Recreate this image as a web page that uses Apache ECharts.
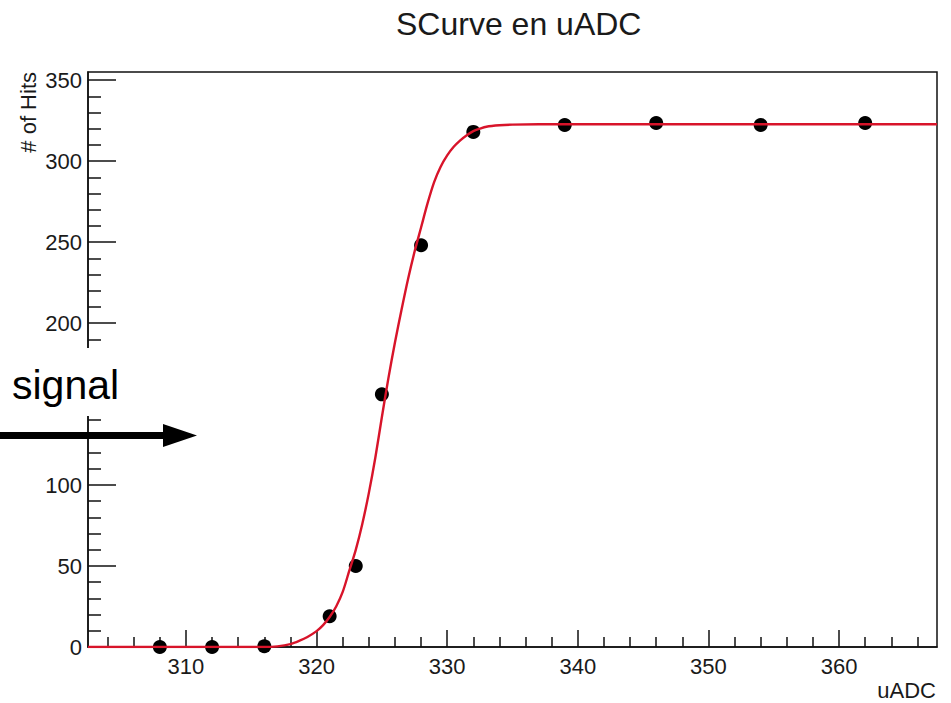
<!DOCTYPE html>
<html><head><meta charset="utf-8">
<script src="https://cdn.jsdelivr.net/npm/echarts@6/dist/echarts.min.js"></script>
<style>html,body{margin:0;padding:0;background:#fff}#c{width:951px;height:703px}</style>
</head><body><div id="c"></div>
<script>
const FONT = "'Liberation Sans', Arial, Helvetica, sans-serif";

const chartTitle = 'SCurve en uADC';
const xAxisTitle = 'uADC';
const yAxisTitle = '# of Hits';
const annotationText = 'signal';

const xMin = 302.5, xMax = 367.5;
const yMin = 0, yMax = 355;

const xMajorTicks = [310, 320, 330, 340, 350, 360];
const xMinorTicks = [304, 306, 308, 312, 314, 316, 318, 322, 324, 326, 328, 332, 334, 336, 338,
  342, 344, 346, 348, 352, 354, 356, 358, 362, 364, 366];
const yMajorTicks = [0, 50, 100, 150, 200, 250, 300, 350];
// the 150 label is hidden behind the "signal" annotation box in the reference
const yMajorLabels = [0, 50, 100, 200, 250, 300, 350];
const yMinorTicks = [10, 20, 30, 40, 60, 70, 80, 90, 110, 120, 130, 140, 160, 170, 180, 190,
  210, 220, 230, 240, 260, 270, 280, 290, 310, 320, 330, 340];

// measured points (black markers)
const hitX = [308, 312, 316, 321, 323, 325, 328, 332, 339, 346, 354, 362];
const hitY = [0, 0, 0.5, 19, 50, 156, 248, 318, 322.3, 323.5, 322.3, 323.5];

// fitted S-curve (red line)
const fitX = [302.5, 316, 317, 318, 318.7, 319.3, 320, 320.5, 321, 321.5, 322, 322.5, 323, 323.5,
  324, 324.5, 325, 325.5, 326, 326.5, 327, 327.5, 328, 328.5, 329, 329.5, 330, 330.5, 331,
  331.5, 332, 332.5, 333, 334, 335, 337, 340, 367.5];
const fitY = [0, 0, 0.4, 1.8, 3.9, 6.2, 9.8, 13.5, 18.5, 25, 34, 47, 60, 76,
  95, 117, 142, 166, 188, 208, 227, 244, 259, 274, 287, 296.5, 303.5, 308.8, 312.8,
  316, 318.5, 320, 321.2, 322.1, 322.5, 322.7, 322.7, 322.7];

const hitData = hitX.map((x, i) => [x, hitY[i]]);
const fitData = fitX.map((x, i) => [x, fitY[i]]);

const chart = echarts.init(document.getElementById('c'), null, {renderer: 'svg'});
const labelStyle = {color: '#1a1a1a', fontSize: 22, fontFamily: FONT};

chart.setOption({
  backgroundColor: '#fff',
  animation: false,
  title: {
    text: chartTitle,
    left: 391, top: 3,
    textStyle: {fontSize: 32, fontWeight: 'normal', color: '#1a1a1a', fontFamily: FONT}
  },
  grid: {left: 88, right: 14, top: 72, bottom: 56, show: true, borderColor: '#111', borderWidth: 1.5, backgroundColor: 'transparent'},
  xAxis: [{
    type: 'value', min: xMin, max: xMax,
    axisLine: {show: true, onZero: false, lineStyle: {color: '#111', width: 1.5}},
    axisTick: {show: true, inside: true, length: 17, customValues: xMajorTicks, lineStyle: {color: '#111', width: 1.5}},
    axisLabel: Object.assign({show: true, margin: 8, customValues: xMajorTicks}, labelStyle),
    splitLine: {show: false}
  }, {
    type: 'value', min: xMin, max: xMax, position: 'bottom',
    axisLine: {show: false},
    axisTick: {show: true, inside: true, length: 10, customValues: xMinorTicks, lineStyle: {color: '#111', width: 1.5}},
    axisLabel: {show: false},
    splitLine: {show: false}
  }],
  yAxis: [{
    type: 'value', min: yMin, max: yMax,
    axisLine: {show: true, onZero: false, lineStyle: {color: '#111', width: 1.5}},
    axisTick: {show: true, inside: true, length: 28, customValues: yMajorTicks, lineStyle: {color: '#111', width: 1.5}},
    axisLabel: Object.assign({show: true, margin: 6, customValues: yMajorLabels}, labelStyle),
    splitLine: {show: false}
  }, {
    type: 'value', min: yMin, max: yMax, position: 'left',
    axisLine: {show: false},
    axisTick: {show: true, inside: true, length: 13, customValues: yMinorTicks, lineStyle: {color: '#111', width: 1.5}},
    axisLabel: {show: false},
    splitLine: {show: false}
  }],
  series: [{
    name: 'data', type: 'scatter', xAxisIndex: 0, yAxisIndex: 0,
    data: hitData, symbol: 'circle', symbolSize: 14, clip: false,
    itemStyle: {color: '#000', opacity: 1}, z: 3
  }, {
    name: 'fit', type: 'line', xAxisIndex: 0, yAxisIndex: 0,
    data: fitData, showSymbol: false, smooth: 0.3,
    lineStyle: {color: '#d8142a', width: 2.4}, z: 4
  }],
  graphic: [
    {type: 'text', z: 50, x: 28, y: 72, rotation: Math.PI / 2,
     style: {text: yAxisTitle, fill: '#1a1a1a', font: '22px ' + FONT, align: 'right', verticalAlign: 'middle'}},
    {type: 'text', z: 50, x: 936, y: 690,
     style: {text: xAxisTitle, fill: '#1a1a1a', font: '22px ' + FONT, align: 'right', verticalAlign: 'middle'}},
    {type: 'rect', z: 100, shape: {x: 0, y: 348, width: 135, height: 68}, style: {fill: '#fff'}},
    {type: 'text', z: 101, x: 12, y: 385,
     style: {text: annotationText, fill: '#000', font: '41px ' + FONT, align: 'left', verticalAlign: 'middle'}},
    {type: 'rect', z: 101, shape: {x: 0, y: 432, width: 166, height: 7}, style: {fill: '#000'}},
    {type: 'polygon', z: 101, shape: {points: [[163, 424], [197, 435.5], [163, 447]]}, style: {fill: '#000'}}
  ]
});
</script>
</body></html>
